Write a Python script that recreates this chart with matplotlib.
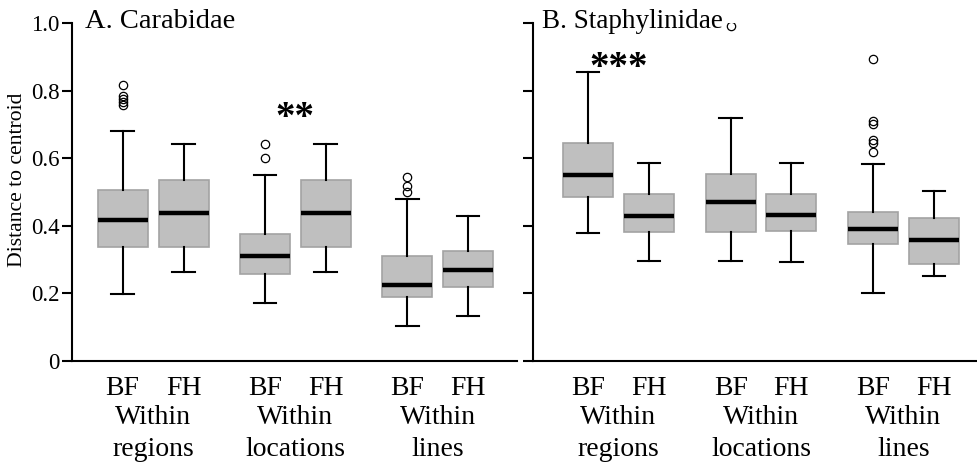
import matplotlib
matplotlib.use("Agg")
import matplotlib.pyplot as plt
import matplotlib.transforms as mtransforms

plt.rcParams['font.family'] = ['Liberation Serif', 'DejaVu Serif']

# box positions: BF/FH pairs for the three spatial scales
positions = [0, 1, 2.34, 3.33, 4.67, 5.67]
habitats = ["BF", "FH", "BF", "FH", "BF", "FH"]
groups_top = ["Within", "Within", "Within"]
groups_bottom = ["regions", "locations", "lines"]

# Carabidae: whisker low, q1, median, q3, whisker high, outliers
car_low = [0.197, 0.264, 0.171, 0.264, 0.103, 0.132]
car_q1 = [0.338, 0.337, 0.256, 0.338, 0.189, 0.218]
car_med = [0.416, 0.439, 0.310, 0.438, 0.225, 0.268]
car_q3 = [0.505, 0.535, 0.375, 0.536, 0.310, 0.325]
car_high = [0.682, 0.642, 0.550, 0.641, 0.479, 0.428]
car_out = [[0.817, 0.785, 0.775, 0.765, 0.756], [], [0.642, 0.600], [],
           [0.544, 0.518, 0.499], []]

# Staphylinidae
sta_low = [0.379, 0.296, 0.296, 0.294, 0.200, 0.251]
sta_q1 = [0.484, 0.381, 0.381, 0.385, 0.345, 0.286]
sta_med = [0.551, 0.430, 0.470, 0.431, 0.390, 0.358]
sta_q3 = [0.645, 0.493, 0.552, 0.493, 0.442, 0.423]
sta_high = [0.854, 0.586, 0.718, 0.586, 0.582, 0.504]
sta_out = [[], [], [0.992], [], [0.893, 0.710, 0.700, 0.655, 0.644, 0.619], []]


def make_stats(low, q1, med, q3, high, out):
    stats = []
    for i in range(len(low)):
        stats.append(dict(whislo=low[i], q1=q1[i], med=med[i], q3=q3[i],
                          whishi=high[i], fliers=out[i]))
    return stats


def draw_panel(ax, stats, xlim, title, title_x, title_size, star, star_x, star_y, ylabels):
    ax.bxp(stats, positions=positions, widths=0.82, patch_artist=True,
           showfliers=True,
           boxprops=dict(facecolor="#bfbfbf", edgecolor="#a3a3a3", linewidth=1.2),
           medianprops=dict(color="black", linewidth=3.2, solid_capstyle="butt"),
           whiskerprops=dict(color="black", linewidth=1.5),
           capprops=dict(color="black", linewidth=1.5),
           flierprops=dict(marker="o", markerfacecolor="none", markeredgecolor="black",
                           markersize=6, markeredgewidth=0.9),
           capwidths=0.37)
    ax.set_xlim(*xlim)
    ax.set_ylim(0, 1.0)
    ax.spines["top"].set_visible(False)
    ax.spines["right"].set_visible(False)
    ax.spines["left"].set_linewidth(1.5)
    ax.spines["bottom"].set_linewidth(1.5)
    ax.set_yticks([0, 0.2, 0.4, 0.6, 0.8, 1.0])
    if ylabels:
        ax.set_yticklabels(["0", "0.2", "0.4", "0.6", "0.8", "1.0"])
    else:
        ax.set_yticklabels([])
    ax.tick_params(axis="y", direction="out", length=7, width=1.5, labelsize=16.5, pad=2)
    ax.set_xticks([])
    trans = mtransforms.blended_transform_factory(ax.transData, ax.transAxes)
    for p, h in zip(positions, habitats):
        ax.text(p, -0.1015, h, transform=trans, ha="center", va="baseline", fontsize=20)
    for g in range(3):
        cx = (positions[2 * g] + positions[2 * g + 1]) / 2
        ax.text(cx, -0.1855, groups_top[g], transform=trans, ha="center",
                va="baseline", fontsize=20)
        ax.text(cx, -0.281, groups_bottom[g], transform=trans, ha="center",
                va="baseline", fontsize=20)
    ax.text(title_x, 0.985, title, transform=ax.transAxes,
            fontsize=title_size, va="baseline", ha="left")
    ax.text(star_x, star_y, star, ha="center", va="center", fontsize=28,
            fontweight="bold")


fig = plt.figure(figsize=(9.78, 4.66), dpi=100)
ax1 = fig.add_axes([0.0736, 0.2253, 0.455, 0.7253])
ax2 = fig.add_axes([0.545, 0.2253, 0.455, 0.7253])

draw_panel(ax1, make_stats(car_low, car_q1, car_med, car_q3, car_high, car_out),
           (-0.83, 6.47), "A. Carabidae", 0.03, 20.5, "**", 2.835, 0.718, True)
draw_panel(ax2, make_stats(sta_low, sta_q1, sta_med, sta_q3, sta_high, sta_out),
           (-0.9, 6.39), "B. Staphylinidae", 0.02, 19.5, "***", 0.5, 0.865, False)
ax1.set_ylabel("Distance to centroid", fontsize=15.6)
ax1.yaxis.set_label_coords(-0.101, 0.535)

fig.savefig("out.png", dpi=100)
